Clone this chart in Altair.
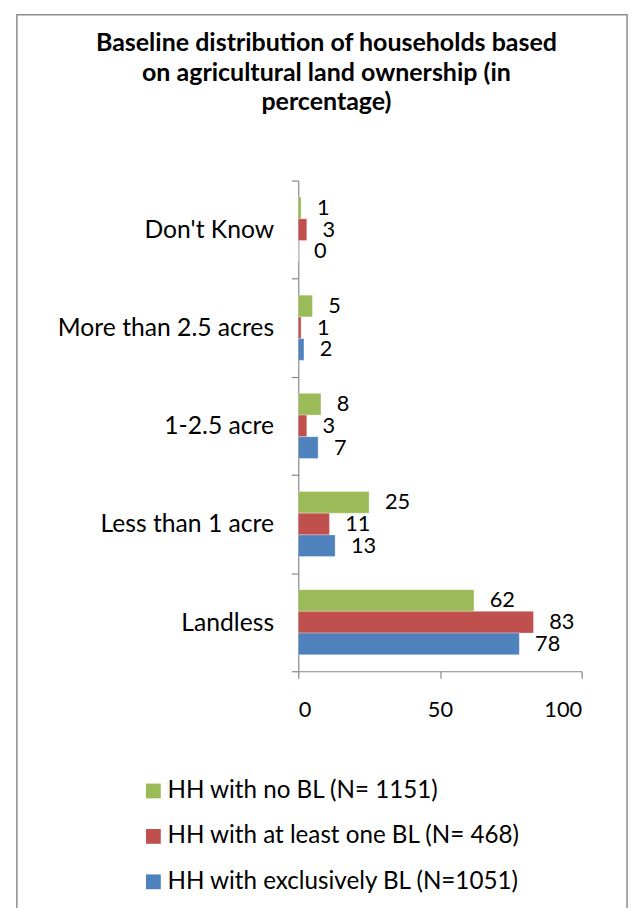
import altair as alt
import pandas as pd

categories = ["Don't Know", "More than 2.5 acres", "1-2.5 acre", "Less than 1 acre", "Landless"]
series = ["HH with no BL (N= 1151)", "HH with at least one BL (N= 468)", "HH with exclusively BL (N=1051)"]
no_bl = [1, 5, 8, 25, 62]
at_least_one = [3, 1, 3, 11, 83]
exclusively = [0, 2, 7, 13, 78]
colors = ["#9BBB59", "#C0504D", "#4F81BD"]
title_lines = ["Baseline distribution of households based", "on agricultural land ownership (in", "percentage)"]

rows = []
for s, vals in zip(series, [no_bl, at_least_one, exclusively]):
    for c, v in zip(categories, vals):
        rows.append({"category": c, "series": s, "value": v})
df = pd.DataFrame(rows)

FONT = "Lato"
FS_TEXT = 25
FS_NUM = 22
FS_LEG = 24.5

y_enc = alt.Y("category:N", sort=categories,
              scale=alt.Scale(paddingInner=0, paddingOuter=0),
              axis=alt.Axis(title=None, tickBand="extent", labelFontSize=FS_TEXT, labelFont=FONT,
                            labelColor="#000000", domainColor="#868686", tickColor="#868686",
                            tickSize=7, labelPadding=18, labelAlign="right", labelLimit=400))
yoff = alt.YOffset("series:N", sort=series,
                   scale=alt.Scale(domain=series, paddingInner=0, paddingOuter=0.76))
x_enc = alt.X("value:Q", scale=alt.Scale(domain=[0, 100]),
              axis=alt.Axis(title=None, values=[0, 50, 100], grid=False, labelFontSize=FS_NUM,
                            labelFont=FONT, labelColor="#000000", domainColor="#868686",
                            tickColor="#868686", tickSize=7, labelPadding=22))

bars = alt.Chart(df).mark_bar(stroke="white", strokeWidth=0.5, strokeOpacity=0.6).encode(
    x=x_enc, y=y_enc, yOffset=yoff,
    color=alt.Color("series:N", sort=series,
                    scale=alt.Scale(domain=series, range=colors),
                    legend=alt.Legend(title=None, orient="none", legendX=-159, legendY=606,
                                      direction="vertical", symbolType="square", symbolSize=225,
                                      symbolStrokeWidth=0, labelFontSize=FS_LEG, labelFont=FONT,
                                      labelColor="#000000", labelOffset=2, rowPadding=21,
                                      padding=0, labelLimit=500)),
)

labels = alt.Chart(df).mark_text(align="left", baseline="middle", dx=16, fontSize=FS_NUM,
                                 font=FONT, color="#000000").encode(
    x="value:Q", y=alt.Y("category:N", sort=categories), yOffset=yoff,
    text=alt.Text("value:Q", format="d"),
)

frame = alt.Chart(pd.DataFrame({"a": [0]})).mark_rect(
    fill=None, stroke="#8c8c8c", strokeWidth=1.5).encode(
    x=alt.value(-285), x2=alt.value(333), y=alt.value(-168), y2=alt.value(760))

chart = alt.layer(frame, bars, labels).properties(
    width=287, height=497,
    autosize=alt.AutoSizeParams(type="none"),
    padding={"left": 294, "top": 169, "right": 51, "bottom": 234},
    title=alt.TitleParams(text=title_lines, fontSize=25.3, font=FONT, fontWeight="bold",
                          color="#000000", lineHeight=30, anchor="middle", dx=-115, offset=-103),
).configure_view(stroke=None).configure_axis(domainWidth=1.2, tickWidth=1.2)

chart.save("out.html", embed_options={"renderer": "svg", "actions": False})
